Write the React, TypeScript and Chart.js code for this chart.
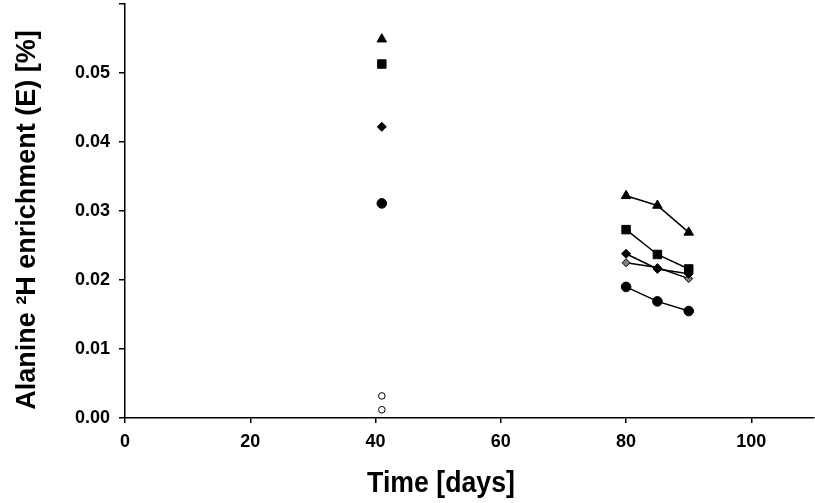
import React, { useEffect, useRef } from 'react';
import { Chart, registerables } from 'chart.js';

Chart.register(...registerables);

// ---- data ----
const earlyDays = [41];
const lateDays = [80, 85, 90];

const triangleEarly = [0.0549];
const triangleLate = [0.0322, 0.0308, 0.0269];
const squareEarly = [0.0513];
const squareLate = [0.0273, 0.0237, 0.0216];
const diamondEarly = [0.0422];
const diamondLate = [0.0238, 0.0216, 0.0209];
const grayDiamondLate = [0.0225, 0.0218, 0.0202];
const circleEarly = [0.0311];
const circleLate = [0.019, 0.0169, 0.0155];
const openCircleDays = [41, 41];
const openCircleEarly = [0.0032, 0.0012];

const xTicks = [0, 20, 40, 60, 80, 100];
const xTickLabels = ['0', '20', '40', '60', '80', '100'];
const yTicks = [0, 0.01, 0.02, 0.03, 0.04, 0.05, 0.06];
const yTickLabels = ['0.00', '0.01', '0.02', '0.03', '0.04', '0.05', ''];

const xTitle = 'Time [days]';
const yTitle = 'Alanine \u00B2H enrichment (E) [%]';

const SANS = "'Liberation Sans', Arial, Helvetica, sans-serif";

const pts = (xs: number[], ys: number[]) => xs.map((x, i) => ({ x, y: ys[i] }));

const titlePlugin = {
  id: 'axisTitles',
  afterDraw(chart: any) {
    const ctx = chart.ctx as CanvasRenderingContext2D;
    ctx.save();
    ctx.fillStyle = '#000';
    ctx.textAlign = 'center';
    ctx.textBaseline = 'alphabetic';
    // x title (slightly condensed look)
    ctx.save();
    ctx.translate(441, 492);
    ctx.scale(0.92, 1);
    ctx.font = `bold 29px ${SANS}`;
    ctx.fillText(xTitle, 0, 0);
    ctx.restore();
    // y title
    ctx.translate(35, 220);
    ctx.rotate(-Math.PI / 2);
    ctx.font = `bold 27px ${SANS}`;
    ctx.fillText(yTitle, 0, 0);
    ctx.restore();
  },
};

export default function App() {
  const ref = useRef<HTMLCanvasElement | null>(null);

  useEffect(() => {
    if (!ref.current) return;
    const black = '#000000';
    const early = (ys: number[], style: string, r: number, xs: number[] = earlyDays, fill = black) => ({
      data: pts(xs, ys),
      showLine: false,
      pointStyle: style,
      pointRadius: r,
      pointBackgroundColor: fill,
      pointBorderColor: black,
      pointBorderWidth: 1,
    });
    const late = (ys: number[], style: string, r: number, fill = black) => ({
      data: pts(lateDays, ys),
      showLine: true,
      borderColor: black,
      borderWidth: 1.5,
      pointStyle: style,
      pointRadius: r,
      pointBackgroundColor: fill,
      pointBorderColor: black,
      pointBorderWidth: 1,
    });

    const chart = new Chart(ref.current, {
      type: 'scatter',
      data: {
        datasets: [
          early(triangleEarly, 'triangle', 5.5),
          early(squareEarly, 'rect', 6),
          early(diamondEarly, 'rectRot', 4.5),
          early(circleEarly, 'circle', 4.8),
          early(openCircleEarly, 'circle', 3.3, openCircleDays, '#ffffff'),
          late(triangleLate, 'triangle', 5.5),
          late(squareLate, 'rect', 6),
          late(diamondLate, 'rectRot', 4.5),
          late(grayDiamondLate, 'rectRot', 4, '#808080'),
          late(circleLate, 'circle', 4.8),
        ] as any,
      },
      options: {
        animation: false,
        responsive: false,
        devicePixelRatio: 1,
        layout: { autoPadding: false, padding: { top: 4, right: 1, left: 0, bottom: 0 } },
        plugins: { legend: { display: false }, tooltip: { enabled: false } },
        scales: {
          x: {
            type: 'linear',
            min: 0,
            max: 110,
            afterBuildTicks: (s: any) => {
              s.ticks = xTicks.map((value) => ({ value }));
            },
            afterFit: (s: any) => {
              s.height = 85;
              s.paddingLeft = 0;
              s.paddingRight = 0;
            },
            grid: { drawOnChartArea: false, drawTicks: true, tickLength: 5, color: black, lineWidth: 1.5 },
            border: { display: true, color: black, width: 1.5 },
            ticks: {
              color: black,
              padding: 8,
              autoSkip: false,
              maxRotation: 0,
              font: { family: SANS, size: 18, weight: 'bold' },
              callback: (v: any) => {
                const i = xTicks.findIndex((t) => Math.abs(t - Number(v)) < 1e-9);
                return i >= 0 ? xTickLabels[i] : '';
              },
            },
          },
          y: {
            type: 'linear',
            min: 0,
            max: 0.06,
            afterBuildTicks: (s: any) => {
              s.ticks = yTicks.map((value) => ({ value }));
            },
            afterFit: (s: any) => {
              s.width = 125;
              s.paddingTop = 0;
              s.paddingBottom = 0;
            },
            grid: { drawOnChartArea: false, drawTicks: true, tickLength: 6, color: black, lineWidth: 1.5 },
            border: { display: true, color: black, width: 1.5 },
            ticks: {
              color: black,
              padding: 9,
              autoSkip: false,
              font: { family: SANS, size: 18, weight: 'bold' },
              callback: (v: any) => {
                const i = yTicks.findIndex((t) => Math.abs(t - Number(v)) < 1e-9);
                return i >= 0 ? yTickLabels[i] : '';
              },
            },
          },
        },
      } as any,
      plugins: [titlePlugin],
    });
    return () => chart.destroy();
  }, []);

  return (
    <div style={{ position: 'absolute', left: 0, top: 0, width: 815, height: 503, background: '#fff' }}>
      <canvas ref={ref} width={815} height={503} style={{ display: 'block' }} />
    </div>
  );
}
